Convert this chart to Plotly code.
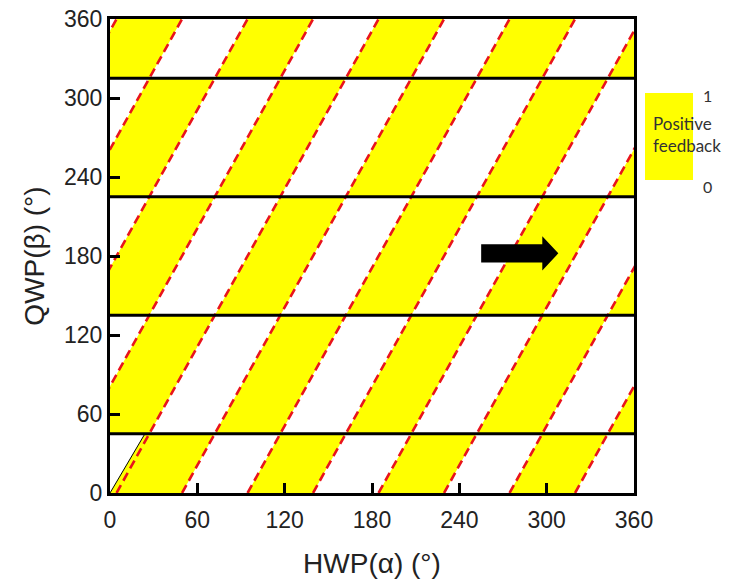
import plotly.graph_objects as go

# Boundary lines (QWP angle, degrees) separating the feedback bands
band_edges = [0, 45, 135, 225, 315, 360]
band_lines = [45, 135, 225, 315]

# Red dashed boundaries: alpha = c + beta/2, listed by their alpha at beta = 0
stripe_c = [-220.5, -175.5, -130.5, -85.5, -40.5, 4.5, 49.5, 94.5,
            139.5, 184.5, 229.5, 274.5, 319.5, 364.5]
slope = 0.5  # d(alpha)/d(beta) of the stripe boundaries

# Thin guide line starting at the origin
guide_alpha = [0, 24]
guide_beta = [0, 45]

# Direction arrow (alpha tail -> tip at a fixed beta)
arrow_tail, arrow_tip, arrow_beta = 255, 308, 182

ticks = [0, 60, 120, 180, 240, 300, 360]

YELLOW = "#FFFF00"
RED = "#E8141C"

fig = go.Figure()

# Yellow stripes: alternate between neighbouring stripes and flip at each band line
px, py = [], []
for b in range(len(band_edges) - 1):
    lo, hi = band_edges[b], band_edges[b + 1]
    for i in range(len(stripe_c) - 1):
        if (i + b) % 2 == 0:
            continue
        c0, c1 = stripe_c[i], stripe_c[i + 1]
        left_lo = c0 + slope * lo
        left_hi = c0 + slope * hi
        if b == 0 and c0 == 4.5:
            left_lo, left_hi = guide_alpha[0], guide_alpha[1]
        px += [left_lo, c1 + slope * lo, c1 + slope * hi, left_hi, left_lo, None]
        py += [lo, lo, hi, hi, lo, None]
fig.add_trace(go.Scatter(x=px, y=py, mode="lines", fill="toself",
                         fillcolor=YELLOW, line=dict(width=0),
                         hoverinfo="skip", showlegend=False))

# Red dashed stripe boundaries
lx, ly = [], []
for c in stripe_c:
    lx += [c, c + slope * 360, None]
    ly += [0, 360, None]
fig.add_trace(go.Scatter(x=lx, y=ly, mode="lines",
                         line=dict(color=RED, width=2.6, dash="9px,5px"),
                         hoverinfo="skip", showlegend=False))

# Guide line from the origin
fig.add_trace(go.Scatter(x=guide_alpha, y=guide_beta, mode="lines",
                         line=dict(color="black", width=1),
                         hoverinfo="skip", showlegend=False))

# Horizontal band lines
hx, hy = [], []
for yb in band_lines:
    hx += [0, 360, None]
    hy += [yb, yb, None]
fig.add_trace(go.Scatter(x=hx, y=hy, mode="lines",
                         line=dict(color="black", width=3),
                         hoverinfo="skip", showlegend=False))

# Arrow drawn as a filled path
shaft, head, head_len = 7, 13, 11
neck = arrow_tip - head_len
path = (f"M {arrow_tail},{arrow_beta - shaft} L {neck},{arrow_beta - shaft} "
        f"L {neck},{arrow_beta - head} L {arrow_tip},{arrow_beta} "
        f"L {neck},{arrow_beta + head} L {neck},{arrow_beta + shaft} "
        f"L {arrow_tail},{arrow_beta + shaft} Z")
fig.add_shape(type="path", path=path, xref="x", yref="y",
              fillcolor="black", line=dict(width=0), layer="above")

# Colour key on the right
W, H = 732, 583
ml, mr, mt, mb = 110, 98, 19, 90
pw, ph = W - ml - mr, H - mt - mb


def pxx(x):
    return (x - ml) / pw


def pxy(y):
    return (H - mb - y) / ph


fig.add_shape(type="rect", xref="paper", yref="paper",
              x0=pxx(645), x1=pxx(693), y0=pxy(180), y1=pxy(93),
              fillcolor=YELLOW, line=dict(width=0), layer="above")
key_font = dict(family="Lato", size=16, color="#333333")
fig.add_annotation(x=pxx(707), y=pxy(95), xref="paper", yref="paper",
                   text="1", showarrow=False, xanchor="center", yanchor="middle",
                   font=key_font)
fig.add_annotation(x=pxx(707), y=pxy(186), xref="paper", yref="paper",
                   text="0", showarrow=False, xanchor="center", yanchor="middle",
                   font=key_font)
fig.add_annotation(x=pxx(651), y=pxy(123), xref="paper", yref="paper",
                   text="Positive", showarrow=False, xanchor="left", yanchor="middle",
                   font=dict(family="Lato", size=17, color="#333333"))
fig.add_annotation(x=pxx(651), y=pxy(146), xref="paper", yref="paper",
                   text="feedback", showarrow=False, xanchor="left", yanchor="middle",
                   font=dict(family="Lato", size=17, color="#333333"))

axis_common = dict(
    range=[0, 360], tickvals=ticks, ticktext=[str(t) for t in ticks],
    ticks="inside", ticklen=10, tickwidth=2.5, tickcolor="black",
    showline=True, linewidth=3, linecolor="black", mirror=True,
    showgrid=False, zeroline=False, automargin=False,
    tickfont=dict(family="Liberation Sans", size=23, color="#222222"),
)

fig.update_xaxes(**axis_common, ticklabelstandoff=4,
                 title=dict(text="HWP(α) (°)", standoff=22,
                            font=dict(family="Liberation Sans", size=28, color="#222222")))
fig.update_yaxes(**axis_common,
                 title=dict(text="QWP(β) (°)", standoff=12,
                            font=dict(family="Liberation Sans", size=28, color="#222222")))

fig.update_layout(width=W, height=H, margin=dict(l=ml, r=mr, t=mt, b=mb),
                  plot_bgcolor="white", paper_bgcolor="white", showlegend=False)

fig.write_html("out.html")
